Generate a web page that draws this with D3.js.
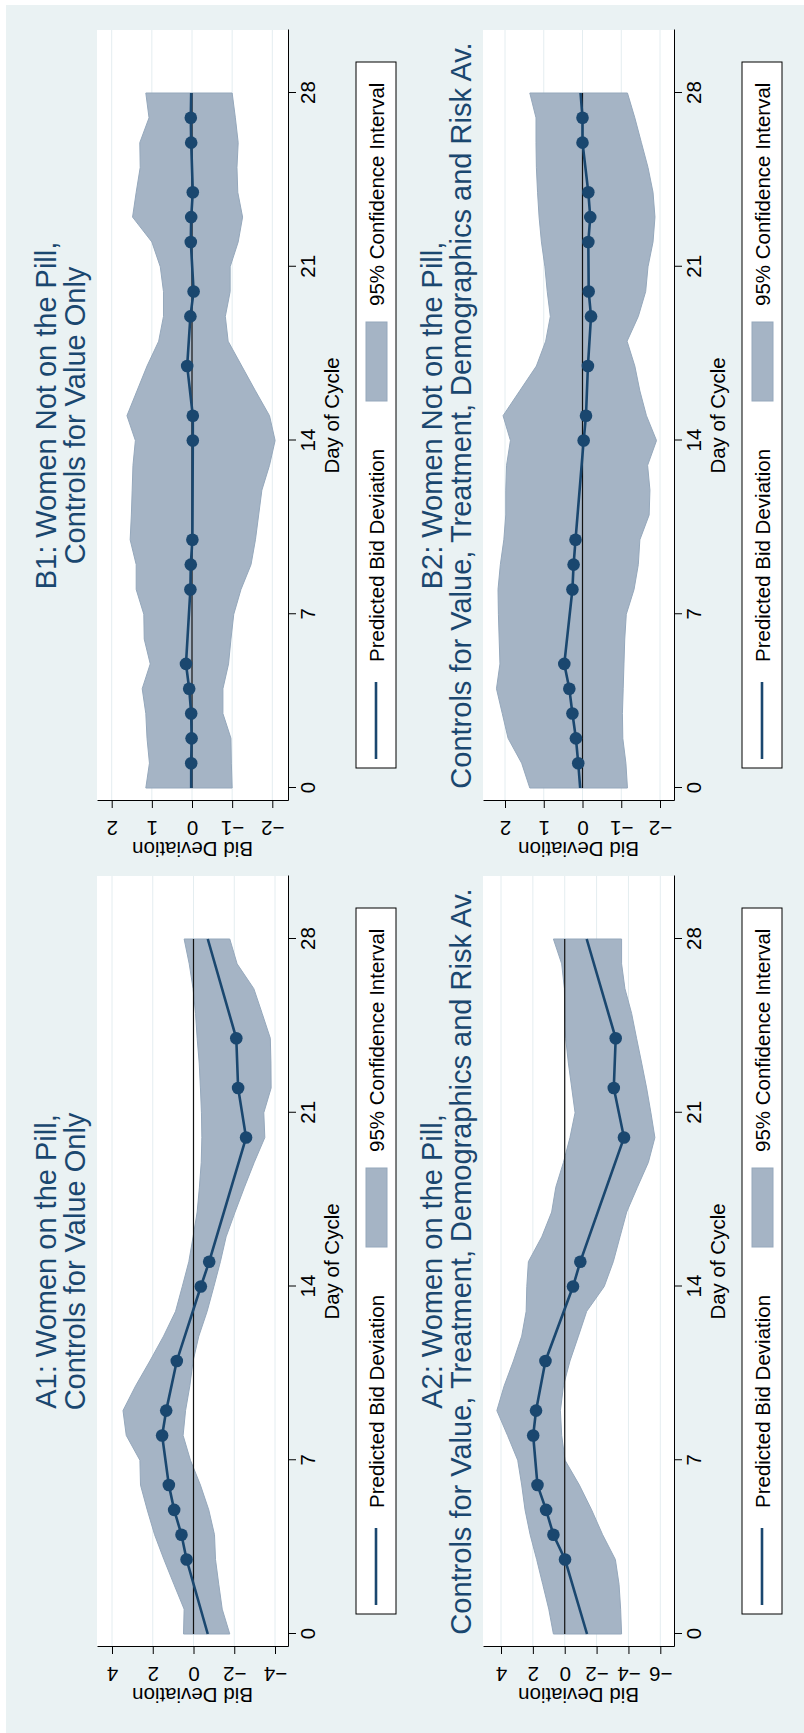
<!DOCTYPE html>
<html>
<head>
<meta charset="utf-8">
<script src="https://cdn.jsdelivr.net/npm/d3@7"></script>
<style>
  body { margin: 0; background: #fff; }
  svg { display: block; }
  text { font-family: "Liberation Sans", Arial, sans-serif; }
</style>
</head>
<body>
<div id="chart"></div>
<script>
// ---- data ----
const dayTicks = [0, 7, 14, 21, 28];
const bandDays = [0, 1, 2, 3, 4, 5, 6, 7, 8, 9, 10, 11, 12, 13, 14, 15, 16, 17, 18, 19, 20, 21, 22, 23, 24, 25, 26, 27, 28];
const endDays = [0, 28]; // line ends carry no marker

const a1Ticks = [4, 2, 0, -2, -4];
const a1Days = [0, 3, 4, 5, 6, 8, 9, 11, 14, 15, 20, 22, 24, 28];
const a1Pred = [-0.70, 0.34, 0.59, 0.95, 1.21, 1.54, 1.34, 0.82, -0.36, -0.77, -2.58, -2.19, -2.10, -0.70];
const a1Upper = [0.49, 0.46, 0.96, 1.45, 1.91, 2.27, 2.60, 2.63, 3.30, 3.46, 2.84, 2.14, 1.47, 0.88, 0.55, 0.23, 0.02, -0.18, -0.29, -0.38, -0.41, -0.39, -0.34, -0.28, -0.18, -0.10, 0.02, 0.21, 0.46];
const a1Lower = [-1.78, -1.41, -1.24, -1.08, -1.03, -0.75, -0.34, 0.15, 0.51, 0.39, 0.18, 0.02, -0.26, -0.67, -1.00, -1.32, -1.60, -2.04, -2.50, -2.98, -3.50, -3.45, -3.81, -3.80, -3.77, -3.37, -2.96, -2.14, -1.78];

const a2Ticks = [4, 2, 0, -2, -4, -6];
const a2Days = [0, 3, 4, 5, 6, 8, 9, 11, 14, 15, 20, 22, 24, 28];
const a2Pred = [-1.40, -0.02, 0.71, 1.17, 1.71, 1.98, 1.80, 1.21, -0.52, -0.98, -3.72, -3.08, -3.20, -1.38];
const a2Upper = [0.71, 1.00, 1.38, 1.76, 2.17, 2.49, 2.70, 2.95, 3.59, 4.26, 3.80, 3.22, 2.70, 2.42, 2.38, 2.28, 1.44, 0.82, 0.56, 0.08, -0.33, -0.65, -0.44, -0.23, -0.06, 0.00, 0.02, 0.19, 0.71];
const a2Lower = [-3.57, -3.51, -3.41, -3.18, -2.38, -1.69, -0.92, -0.02, 0.19, 0.27, 0.08, -0.33, -0.86, -1.38, -2.48, -3.05, -3.47, -3.89, -4.56, -5.25, -5.66, -5.41, -5.14, -4.83, -4.51, -4.20, -3.78, -3.57, -3.57];

const b1Ticks = [2, 1, 0, -1, -2];
const b1Days = [0, 1, 2, 3, 4, 5, 8, 9, 10, 14, 15, 17, 19, 20, 22, 23, 24, 26, 27, 28];
const b1Pred = [0.02, 0.02, 0.01, 0.02, 0.07, 0.15, 0.04, 0.03, -0.01, -0.02, -0.02, 0.12, 0.04, -0.04, 0.03, 0.02, -0.02, 0.02, 0.03, 0.02];
const b1Upper = [1.15, 1.06, 1.12, 1.15, 1.24, 1.04, 1.19, 1.20, 1.39, 1.39, 1.54, 1.51, 1.49, 1.47, 1.41, 1.62, 1.37, 1.12, 0.83, 0.71, 0.71, 0.79, 1.00, 1.48, 1.39, 1.29, 1.30, 1.07, 1.15];
const b1Lower = [-1.00, -0.98, -0.97, -0.77, -0.77, -0.91, -0.97, -1.04, -1.22, -1.47, -1.58, -1.66, -1.74, -1.93, -2.07, -1.93, -1.58, -1.24, -0.90, -0.83, -0.95, -0.95, -1.15, -1.26, -1.14, -1.12, -1.15, -1.08, -1.00];

const b2Ticks = [2, 1, 0, -1, -2];
const b2Days = [0, 1, 2, 3, 4, 5, 8, 9, 10, 14, 15, 17, 19, 20, 22, 23, 24, 26, 27, 28];
const b2Pred = [0.06, 0.11, 0.17, 0.26, 0.34, 0.47, 0.26, 0.23, 0.18, -0.03, -0.09, -0.14, -0.22, -0.16, -0.15, -0.20, -0.15, 0.00, 0.00, 0.05];
const b2Upper = [1.36, 1.57, 1.92, 2.07, 2.22, 2.13, 2.15, 2.17, 2.18, 2.12, 2.03, 1.98, 1.98, 1.96, 1.86, 2.05, 1.62, 1.19, 0.95, 0.83, 0.91, 0.97, 1.06, 1.12, 1.16, 1.19, 1.20, 1.20, 1.36];
const b2Lower = [-1.16, -1.12, -1.04, -1.03, -1.05, -1.07, -1.09, -1.13, -1.33, -1.44, -1.48, -1.72, -1.74, -1.68, -1.91, -1.65, -1.48, -1.35, -1.15, -1.44, -1.63, -1.69, -1.82, -1.87, -1.82, -1.69, -1.52, -1.35, -1.16];

const navy = "#1a476f";
const bandFill = "#a5b4c5";

// the original graph is landscape; it is drawn rotated a quarter turn
const W = 1733, H = 804;
const pw = 771, ph = 191;

const panels = [
  { title: ["A1: Women on the Pill,", "Controls for Value Only"], left: 86, top: 97,
    ticks: a1Ticks, yr: [15, 178], days: a1Days, pred: a1Pred, upper: a1Upper, lower: a1Lower },
  { title: ["A2: Women on the Pill,", "Controls for Value, Treatment, Demographics and Risk Av."], left: 86, top: 483,
    ticks: a2Ticks, yr: [18, 177.3], days: a2Days, pred: a2Pred, upper: a2Upper, lower: a2Lower },
  { title: ["B1: Women Not on the Pill,", "Controls for Value Only"], left: 932, top: 97,
    ticks: b1Ticks, yr: [14.7, 175.3], days: b1Days, pred: b1Pred, upper: b1Upper, lower: b1Lower },
  { title: ["B2: Women Not on the Pill,", "Controls for Value, Treatment, Demographics and Risk Av."], left: 932, top: 483,
    ticks: b2Ticks, yr: [22, 177], days: b2Days, pred: b2Pred, upper: b2Upper, lower: b2Lower }
];

const svg = d3.select("#chart").append("svg")
  .attr("width", H)
  .attr("height", W);

const root = svg.append("g")
  .attr("transform", `translate(0,${W}) rotate(-90)`);

root.append("rect")
  .attr("x", 0).attr("y", 6)
  .attr("width", W - 5).attr("height", H - 6)
  .attr("fill", "#eaf2f3");

panels.forEach(function(p) {
  const x = d3.scaleLinear().domain([0, 28]).range([13, 708]);
  const xa = x.copy().domain([x.invert(0), x.invert(pw)]).range([0, pw]);
  const y = d3.scaleLinear().domain([p.ticks[0], p.ticks[p.ticks.length - 1]]).range(p.yr);
  const ya = y.copy().domain([y.invert(0), y.invert(ph)]).range([0, ph]);

  const g = root.append("g").attr("transform", `translate(${p.left},${p.top})`);

  g.append("rect").attr("width", pw).attr("height", ph).attr("fill", "#fff");

  // grid
  g.selectAll(".grid").data(p.ticks).enter().append("line")
    .attr("x1", 0).attr("x2", pw)
    .attr("y1", d => y(d)).attr("y2", d => y(d))
    .attr("stroke", "#e4edf0").attr("stroke-width", 1);

  // confidence band
  const band = bandDays.map((d, i) => ({ day: d, lo: p.lower[i], hi: p.upper[i] }));
  g.append("path")
    .datum(band)
    .attr("d", d3.area().x(d => x(d.day)).y0(d => y(d.lo)).y1(d => y(d.hi)))
    .attr("fill", bandFill)
    .attr("stroke", "#95a8bc")
    .attr("stroke-width", 1);

  // zero line
  g.append("line")
    .attr("x1", x(0)).attr("x2", x(28))
    .attr("y1", y(0)).attr("y2", y(0))
    .attr("stroke", "#111").attr("stroke-width", 1.2);

  // predicted line and markers
  const pts = p.days.map((d, i) => ({ day: d, v: p.pred[i] }));
  g.append("path")
    .datum(pts)
    .attr("d", d3.line().x(d => x(d.day)).y(d => y(d.v)))
    .attr("fill", "none")
    .attr("stroke", navy)
    .attr("stroke-width", 2.6);

  g.selectAll(".pt").data(pts.filter(d => endDays.indexOf(d.day) < 0)).enter().append("circle")
    .attr("cx", d => x(d.day)).attr("cy", d => y(d.v))
    .attr("r", 6.3)
    .attr("fill", navy);

  // axes
  const xAxis = g.append("g")
    .attr("transform", `translate(0,${ph})`)
    .call(d3.axisBottom(xa).tickValues(dayTicks).tickSize(8).tickSizeOuter(0).tickFormat(d3.format("d")));
  xAxis.attr("font-family", null).attr("font-size", null);
  xAxis.selectAll("text").attr("y", null).attr("dy", null)
    .attr("transform", "translate(0,27)")
    .attr("font-size", 20.5).attr("fill", "#000");

  const yAxis = g.append("g")
    .call(d3.axisLeft(ya).tickValues(p.ticks).tickSize(7).tickSizeOuter(0).tickFormat(d3.format("d")));
  yAxis.attr("font-family", null).attr("font-size", null);
  yAxis.selectAll("text").attr("x", null).attr("dy", null)
    .attr("text-anchor", "middle")
    .attr("transform", "translate(-20,0) rotate(-90)")
    .attr("font-size", 20.5).attr("fill", "#000");

  g.append("text")
    .attr("transform", `translate(-41,${ph / 2}) rotate(-90)`)
    .attr("text-anchor", "middle")
    .attr("font-size", 20.5)
    .text("Bid Deviation");

  g.append("text")
    .attr("x", pw / 2).attr("y", 242)
    .attr("text-anchor", "middle")
    .attr("font-size", 20.5)
    .text("Day of Cycle");

  // title
  g.selectAll(".title").data(p.title).enter().append("text")
    .attr("x", pw / 2)
    .attr("y", (d, i) => i === 0 ? -41 : -12)
    .attr("text-anchor", "middle")
    .attr("font-size", 29)
    .attr("fill", navy)
    .text(d => d);

  // legend
  const lg = g.append("g").attr("transform", "translate(33,259)");
  lg.append("rect").attr("width", 706).attr("height", 40)
    .attr("fill", "#fff").attr("stroke", "#000").attr("stroke-width", 1);
  lg.append("line").attr("x1", 9).attr("x2", 86).attr("y1", 20).attr("y2", 20)
    .attr("stroke", navy).attr("stroke-width", 2.6);
  lg.append("text").attr("x", 106).attr("y", 28).attr("font-size", 20.5)
    .text("Predicted Bid Deviation");
  lg.append("rect").attr("x", 367).attr("y", 10).attr("width", 79).attr("height", 21)
    .attr("fill", bandFill).attr("stroke", "#95a8bc").attr("stroke-width", 1);
  lg.append("text").attr("x", 462).attr("y", 28).attr("font-size", 20.5)
    .text("95% Confidence Interval");
});
</script>
</body>
</html>
